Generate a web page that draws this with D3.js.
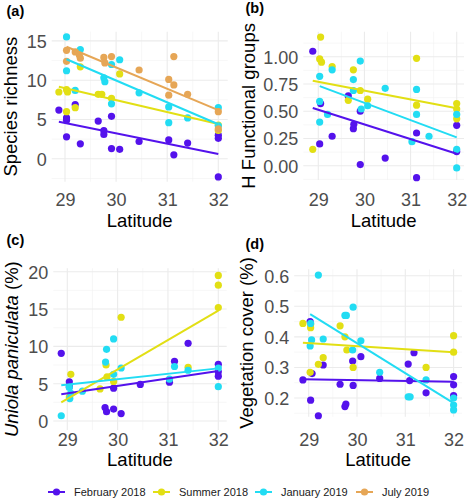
<!DOCTYPE html>
<html><head><meta charset="utf-8">
<script src="https://cdn.jsdelivr.net/npm/d3@7"></script>
<style>body{margin:0;background:#fff} svg{display:block}</style>
</head><body>
<svg id="chart" width="468" height="500"></svg>
<script>
// ---------- DATA ----------
const seriesNames = ["February 2018", "Summer 2018", "January 2019", "July 2019"];
const latitudeTicks = [29, 30, 31, 32];
const richnessTicks = [0, 5, 10, 15];
const hFunctionalTicks = [0, 0.25, 0.5, 0.75, 1];
const uniolaTicks = [0, 5, 10, 15, 20];
const coverTicks = [0.2, 0.3, 0.4, 0.5, 0.6];

// [series index, latitude, value]
const richnessPoints = [
  [0,28.88,6.2],[0,29.03,5.2],[0,29.03,4.9],[0,29.03,2.8],[0,29.2,6.9],[0,29.3,1.9],[0,29.65,4.8],[0,29.76,3.6],[0,29.76,3.1],[0,29.91,5.4],[0,29.91,1.3],[0,30.07,1.2],[0,30.45,2.2],[0,31.03,2.4],[0,31.13,0.5],[0,31.4,2.0],[0,32,3.0],[0,32,2.6],[0,32,-2.3],
  [1,28.88,8.5],[1,29.03,8.8],[1,29.05,8.5],[1,29.03,6.0],[1,29.2,6.5],[1,29.3,11.7],[1,29.65,8.2],[1,29.72,8.2],[1,29.91,7.7],[1,30.07,10.8],[1,32,4.3],[1,32,3.6],
  [2,29.03,15.5],[2,29.03,11.2],[2,29.3,13.9],[2,29.2,8.7],[2,29.76,10.3],[2,29.78,9.8],[2,29.91,12.0],[2,29.91,7.0],[2,30.07,12.6],[2,30.45,8.4],[2,31.03,6.6],[2,31.03,4.6],[2,31.4,5.2],[2,32,6.5],[2,32,4.2],
  [3,29.03,13.8],[3,29.03,12.4],[3,29.2,13.6],[3,29.28,13.2],[3,29.3,12.8],[3,29.76,12.9],[3,29.78,12.2],[3,29.91,13.0],[3,30.45,11.3],[3,31.03,10.1],[3,31.03,8.1],[3,31.13,13.0],[3,31.13,9.4],[3,31.4,8.2],[3,32,6.0],[3,32,3.8]
];
const hFunctionalPoints = [
  [0,28.88,1.05],[0,29.05,0.57],[0,29.03,0.20],[0,29.3,0.27],[0,29.65,0.64],[0,29.76,0.34],[0,29.77,0.38],[0,29.91,0.50],[0,29.91,0.01],[0,30.45,0.07],[0,31.13,0.30],[0,31.13,-0.11],[0,32,0.37],[0,32,0.13],
  [1,28.88,0.15],[1,29.05,1.18],[1,29.03,0.98],[1,29.07,0.95],[1,29.3,0.91],[1,29.65,0.60],[1,29.76,0.88],[1,29.91,0.69],[1,30.07,0.61],[1,31.13,0.985],[1,31.13,0.555],[1,32,0.57],[1,32,0.52],[1,32,0.43],
  [2,29.03,0.82],[2,29.03,0.59],[2,29.03,0.40],[2,29.2,0.47],[2,29.3,0.88],[2,29.76,0.79],[2,29.76,0.69],[2,29.91,0.96],[2,29.93,0.52],[2,30.07,0.55],[2,30.45,0.71],[2,31.03,0.22],[2,31.13,0.70],[2,31.13,0.47],[2,31.4,0.27],[2,32,0.47],[2,32,0.15],[2,32,-0.02]
];
const uniolaPoints = [
  [0,28.88,9.06],[0,29.04,5.26],[0,29.04,4.6],[0,29.75,1.8],[0,29.78,1.25],[0,29.92,1.6],[0,30.07,1.0],[0,29.92,4.4],[0,30.45,4.9],[0,31.03,5.2],[0,31.13,8.0],[0,31.4,10.4],[0,32,7.6],[0,32,6.6],[0,32,6.0],
  [1,29.07,6.25],[1,29.04,3.2],[1,29.65,4.3],[1,29.77,7.5],[1,29.79,5.9],[1,29.92,5.3],[1,30.07,13.9],[1,31.4,7.2],[1,32,19.5],[1,32,18.2],[1,32,15.2],
  [2,28.88,0.7],[2,29.04,4.5],[2,29.05,3.0],[2,29.07,3.7],[2,29.3,4.0],[2,29.78,9.6],[2,29.76,7.9],[2,29.92,11.0],[2,29.92,6.25],[2,30.07,7.1],[2,31.03,5.6],[2,31.13,7.3],[2,31.4,6.8],[2,32,7.1],[2,32,4.6]
];
const coverPoints = [
  [0,28.88,0.259],[0,29.03,0.45],[0,29.07,0.28],[0,29.04,0.193],[0,29.2,0.142],[0,29.3,0.308],[0,29.65,0.245],[0,29.75,0.172],[0,29.77,0.18],[0,29.91,0.321],[0,29.92,0.241],[0,30.08,0.335],[0,30.47,0.264],[0,31.06,0.311],[0,31.18,0.348],[0,31.09,0.257],[0,31.43,0.217],[0,32,0.27],[0,32,0.243],[0,32,0.208],
  [1,28.88,0.444],[1,29.04,0.44],[1,29.04,0.43],[1,29.03,0.284],[1,29.2,0.31],[1,29.3,0.332],[1,29.65,0.436],[1,29.75,0.40],[1,29.79,0.357],[1,29.92,0.30],[1,31.43,0.30],[1,32,0.404],[1,32,0.35],
  [2,29.2,0.602],[2,29.04,0.444],[2,29.06,0.39],[2,29.03,0.37],[2,29.3,0.393],[2,29.75,0.47],[2,29.78,0.47],[2,29.92,0.497],[2,29.91,0.357],[2,30.08,0.387],[2,30.47,0.284],[2,31.06,0.204],[2,31.1,0.204],[2,31.43,0.259],[2,32,0.20],[2,32,0.177],[2,32,0.161]
];

// linear fits: [series index, lat start, value start, lat end, value end]
const richnessFits = [[0,28.88,4.72,32,0.61],[1,28.88,9.17,32,4.43],[2,29.03,12.66,32,4.4],[3,29.03,14.26,32,6.2]];
const hFunctionalFits = [[0,28.88,0.53,32,0.11],[1,28.88,0.78,32,0.527],[2,29.03,0.73,32,0.26]];
const uniolaFits = [[0,28.88,3.57,32,6.7],[1,28.88,2.5,32,14.8],[2,28.88,4.8,32,7.05]];
const coverFits = [[0,28.88,0.261,32,0.253],[1,28.88,0.381,32,0.35],[2,29.03,0.474,32,0.183]];

// ---------- STYLE / LAYOUT ----------
const colors = ["#5412EC", "#E2DF14", "#22DCF3", "#E6A656"];
const FONT = "'Liberation Sans', Arial, sans-serif";
const svg = d3.select("#chart");

const panels = [
  {tag:"(a)", tagX:6.5, tagY:15.5, pts:richnessPoints, fits:richnessFits, yTicks:richnessTicks, fmt:d3.format("d"),
   xA:[65,218.3], yA:[[0,158.8],[15,40.9]], box:{l:51.7,r:227.7,t:31.7,b:181.7}, xLabY:206, xTitleY:227,
   yTitleX:16.7, yTitle:[["Species richness",false]]},
  {tag:"(b)", tagX:245.5, tagY:13, pts:hFunctionalPoints, fits:hFunctionalFits, yTicks:hFunctionalTicks, fmt:d3.format(".2f"),
   xA:[318.3,456.7], yA:[[0,165.7],[1,56.7]], box:{l:303.3,r:464,t:31.7,b:180}, xLabY:206, xTitleY:227,
   yTitleX:254.7, yTitle:[["H Functional groups",false]]},
  {tag:"(c)", tagX:6.5, tagY:245, pts:uniolaPoints, fits:uniolaFits, yTicks:uniolaTicks, fmt:d3.format("d"),
   xA:[67.3,218.3], yA:[[0,421],[20,271.7]], box:{l:53.3,r:226.7,t:268.3,b:430}, xLabY:446, xTitleY:466,
   yTitleX:17.5, yTitle:[["Uniola paniculata",true],[" (%)",false]]},
  {tag:"(d)", tagX:245.5, tagY:248.5, pts:coverPoints, fits:coverFits, yTicks:coverTicks, fmt:d3.format(".1f"),
   xA:[308.7,453.6], yA:[[0.2,398],[0.6,275.7]], box:{l:294.2,r:462,t:269.3,b:416.7}, xLabY:446, xTitleY:466,
   yTitleX:252.5, yTitle:[["Vegetation cover (%)",false]]}
];

function minorTicks(major, dom){
  const step = major[1]-major[0];
  const out = [];
  for (let v = major[0]-step/2; v <= major[major.length-1]+step/2+1e-9; v += step){
    if (v >= dom[0] && v <= dom[1]) out.push(+v.toFixed(6));
  }
  return out;
}

panels.forEach(p => {
  const x0 = d3.scaleLinear().domain([29,32]).range(p.xA);
  const y0 = d3.scaleLinear().domain([p.yA[0][0], p.yA[1][0]]).range([p.yA[0][1], p.yA[1][1]]);
  const x = d3.scaleLinear().domain([x0.invert(p.box.l), x0.invert(p.box.r)]).range([p.box.l, p.box.r]);
  const y = d3.scaleLinear().domain([y0.invert(p.box.b), y0.invert(p.box.t)]).range([p.box.b, p.box.t]);
  const g = svg.append("g");

  // grid
  const xMinor = minorTicks(latitudeTicks, x.domain());
  const yMinor = minorTicks(p.yTicks, y.domain());
  const grid = g.append("g");
  grid.selectAll(".xm").data(xMinor).join("line")
    .attr("x1", d=>x(d)).attr("x2", d=>x(d)).attr("y1", p.box.t).attr("y2", p.box.b)
    .attr("stroke", "#F2F2F2").attr("stroke-width", 0.6);
  grid.selectAll(".ym").data(yMinor).join("line")
    .attr("y1", d=>y(d)).attr("y2", d=>y(d)).attr("x1", p.box.l).attr("x2", p.box.r)
    .attr("stroke", "#F2F2F2").attr("stroke-width", 0.6);
  grid.selectAll(".xM").data(latitudeTicks).join("line")
    .attr("x1", d=>x(d)).attr("x2", d=>x(d)).attr("y1", p.box.t).attr("y2", p.box.b)
    .attr("stroke", "#EBEBEB").attr("stroke-width", 1.1);
  grid.selectAll(".yM").data(p.yTicks).join("line")
    .attr("y1", d=>y(d)).attr("y2", d=>y(d)).attr("x1", p.box.l).attr("x2", p.box.r)
    .attr("stroke", "#EBEBEB").attr("stroke-width", 1.1);

  // axes (labels only)
  const xa = g.append("g").attr("transform", `translate(0,${p.xLabY})`)
    .call(d3.axisBottom(x).tickValues(latitudeTicks).tickSize(0).tickPadding(0).tickFormat(d3.format("d")));
  xa.select(".domain").remove();
  xa.selectAll("text").attr("dy", null).attr("y", 0).attr("fill", "#4D4D4D")
    .style("font-family", FONT).style("font-size", "18px");
  const ya = g.append("g").attr("transform", `translate(${p.box.l - 5},0)`)
    .call(d3.axisLeft(y).tickValues(p.yTicks).tickSize(0).tickPadding(0).tickFormat(p.fmt));
  ya.select(".domain").remove();
  ya.selectAll("text").attr("dy", "0.36em").attr("x", 0).attr("fill", "#4D4D4D")
    .style("font-family", FONT).style("font-size", "18px");

  // points
  g.append("g").selectAll("circle").data(p.pts).join("circle")
    .attr("cx", d=>x(d[1])).attr("cy", d=>y(d[2])).attr("r", 3.6)
    .attr("fill", d=>colors[d[0]]);
  // fit lines
  g.append("g").selectAll("line").data(p.fits).join("line")
    .attr("x1", d=>x(d[1])).attr("y1", d=>y(d[2])).attr("x2", d=>x(d[3])).attr("y2", d=>y(d[4]))
    .attr("stroke", d=>colors[d[0]]).attr("stroke-width", 2);

  // titles
  g.append("text").attr("x", (p.box.l+p.box.r)/2).attr("y", p.xTitleY).attr("text-anchor","middle")
    .style("font-family", FONT).style("font-size","18.5px").attr("fill","#000").text("Latitude");
  const yt = g.append("text").attr("transform", `translate(${p.yTitleX},${(p.box.t+p.box.b)/2}) rotate(-90)`)
    .attr("text-anchor","middle").style("font-family", FONT).style("font-size","18.5px").attr("fill","#000");
  p.yTitle.forEach(([t, it]) => yt.append("tspan").style("font-style", it ? "italic" : "normal").text(t));
  g.append("text").attr("x", p.tagX).attr("y", p.tagY).style("font-family", FONT).style("font-size","14.5px")
    .style("font-weight","bold").attr("fill","#000").text(p.tag);
});

// legend
const legendX = d3.scaleOrdinal().domain(seriesNames).range([56.5, 161.5, 263.5, 364.5]);
const lg = svg.append("g").attr("transform", "translate(0,492)");
const items = lg.selectAll("g").data(seriesNames).join("g").attr("transform", d=>`translate(${legendX(d)},0)`);
items.append("line").attr("x1",-8.5).attr("x2",8.5).attr("y1",0).attr("y2",0)
  .attr("stroke",(d,i)=>colors[i]).attr("stroke-width",2);
items.append("circle").attr("r",3.6).attr("fill",(d,i)=>colors[i]);
items.append("text").attr("x",17.5).attr("y",0).attr("dy","0.36em")
  .style("font-family", FONT).style("font-size","11px").attr("fill","#1A1A1A").text(d=>d);
</script>
</body></html>
